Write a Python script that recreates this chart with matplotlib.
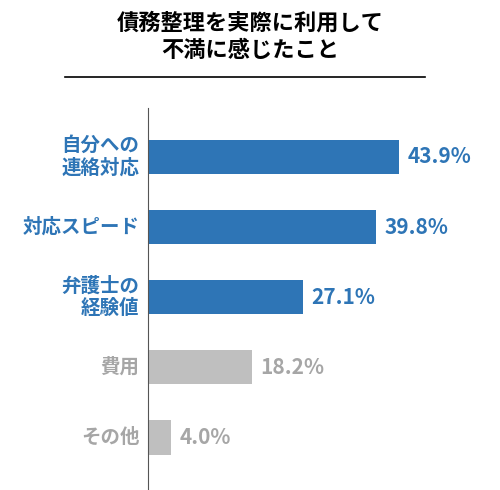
import matplotlib
matplotlib.use("Agg")
from matplotlib import pyplot as plt

plt.rcParams['font.family'] = ['Noto Sans CJK JP', 'DejaVu Sans']

labels = ["自分への\n連絡対応", "対応スピード", "弁護士の\n経験値", "費用", "その他"]
values = [43.9, 39.8, 27.1, 18.2, 4.0]
colors = ["#2E75B6", "#2E75B6", "#2E75B6", "#BFBFBF", "#BFBFBF"]
text_colors = ["#2E75B6", "#2E75B6", "#2E75B6", "#A6A6A6", "#A6A6A6"]

fig = plt.figure(figsize=(5, 4.9), dpi=100)
fig.text(0.5, 0.925, "債務整理を実際に利用して\n不満に感じたこと", ha="center", va="center",
         fontsize=16, fontweight="bold", linespacing=1.25)
fig.add_artist(plt.Line2D([0.13, 0.85], [0.843, 0.843], color="black", lw=1.2))

ax = fig.add_axes([0.296, 0.0, 0.686, 0.78])
y = range(len(values))
ax.barh(y, values, height=0.49, color=colors)
for i, v in enumerate(values):
    ax.text(v + 1.5, i, f"{v}%", va="center", ha="left", fontsize=15,
            fontweight="bold", color=text_colors[i])
    ax.text(-1.5, i, labels[i], va="center", ha="right", fontsize=14,
            fontweight="bold", color=text_colors[i], linespacing=1.25)

ax.set_xlim(0, 60)
ax.set_ylim(4.75, -0.7)
ax.set_xticks([])
ax.set_yticks([])
for s in ["top", "right", "bottom"]:
    ax.spines[s].set_visible(False)
ax.spines["left"].set_color("#555555")

fig.savefig("out.png", dpi=100)
